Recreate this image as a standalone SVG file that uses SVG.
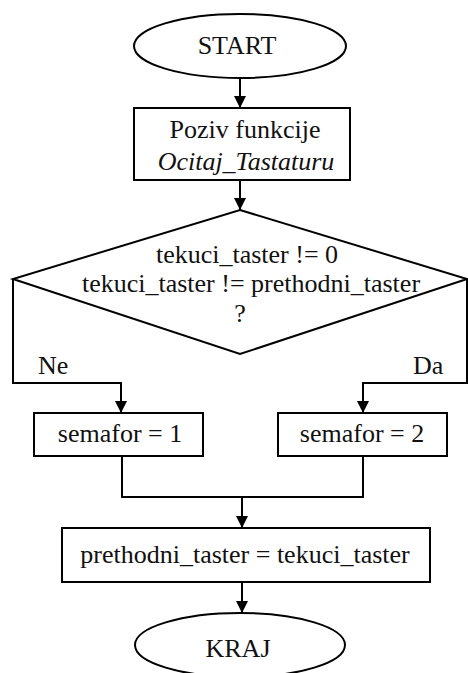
<svg xmlns="http://www.w3.org/2000/svg" width="468" height="673" viewBox="0 0 468 673">
<style>
.s{fill:#fff;stroke:#000;stroke-width:2}
.c{fill:none;stroke:#000;stroke-width:2}
.t{font-family:'Liberation Serif',serif;font-size:26px;fill:#111}
.m{text-anchor:middle}
</style>
<defs>
<marker id="d" markerUnits="userSpaceOnUse" markerWidth="12" markerHeight="12" viewBox="0 0 12 12" refX="6" refY="12" orient="0">
<path d="M0,0 L12,0 L6,12 Z" fill="#000"/>
</marker>
</defs>
<rect width="468" height="673" fill="#fff"/>
<g id="connectors">
<path class="c" d="M240,79 V108" marker-end="url(#d)"/>
<path class="c" d="M240,180 V210" marker-end="url(#d)"/>
<path class="c" d="M13,279 V383 H121 V413" marker-end="url(#d)"/>
<path class="c" d="M467,279 V383 H363 V413" marker-end="url(#d)"/>
<path class="c" d="M122,456 V497 H363 V456"/>
<path class="c" d="M242,497 V528" marker-end="url(#d)"/>
<path class="c" d="M242,582 V613" marker-end="url(#d)"/>
<text class="t" x="38" y="374">Ne</text>
<text class="t" x="413" y="374">Da</text>
</g>
<g id="start">
<ellipse class="s" cx="240" cy="46" rx="106" ry="32"/>
<text class="t m" x="237" y="54">START</text>
</g>
<g id="poziv">
<rect class="s" x="134" y="108" width="216" height="72"/>
<text class="t m" x="245" y="138">Poziv funkcije</text>
<text class="t m" x="246" y="170" font-style="italic">Ocitaj_Tastaturu</text>
</g>
<g id="uslov">
<path class="s" d="M240,210 L467,279 L240,354 L13,279 Z"/>
<text class="t m" x="247" y="263">tekuci_taster != 0</text>
<text class="t m" x="251" y="292">tekuci_taster != prethodni_taster</text>
<text class="t m" x="240" y="322">?</text>
</g>
<g id="semafor1">
<rect class="s" x="34" y="413" width="169" height="43"/>
<text class="t m" x="120" y="442">semafor = 1</text>
</g>
<g id="semafor2">
<rect class="s" x="278" y="413" width="169" height="43"/>
<text class="t m" x="362" y="442">semafor = 2</text>
</g>
<g id="dodela">
<rect class="s" x="62" y="528" width="368" height="54"/>
<text class="t m" x="245" y="563">prethodni_taster = tekuci_taster</text>
</g>
<g id="kraj">
<ellipse class="s" cx="240" cy="645" rx="105" ry="32"/>
<text class="t m" x="238" y="657">KRAJ</text>
</g>
</svg>
